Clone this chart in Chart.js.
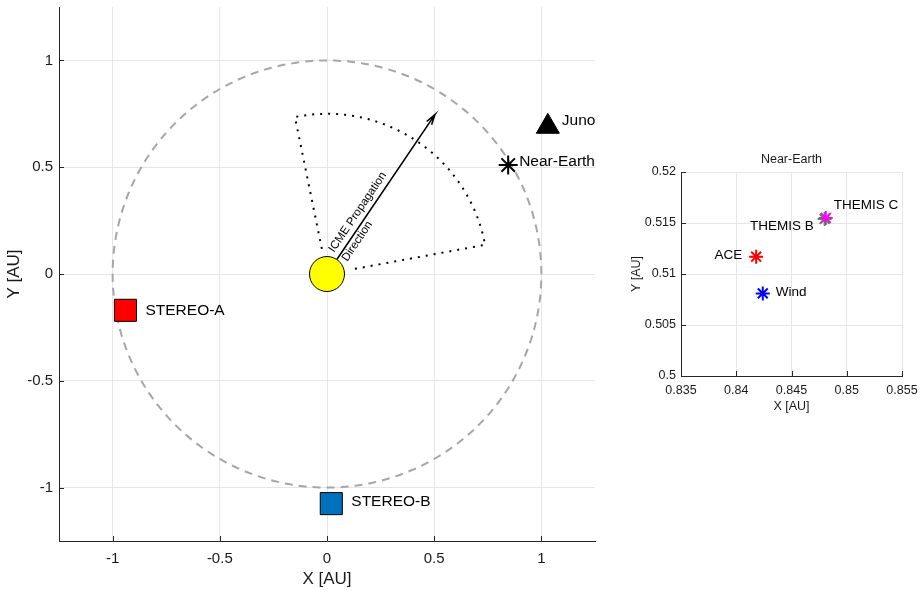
<!DOCTYPE html>
<html>
<head>
<meta charset="utf-8">
<script src="https://cdn.jsdelivr.net/npm/chart.js@4.4.1/dist/chart.umd.min.js"></script>
<style>
  html, body { margin: 0; padding: 0; background: #fff; }
  body { width: 922px; height: 590px; position: relative; overflow: hidden; }
  #mainChart { position: absolute; left: 0; top: 0; }
  #insetChart { position: absolute; left: 620px; top: 140px; }
</style>
</head>
<body>
<canvas id="mainChart" width="610" height="590"></canvas>
<canvas id="insetChart" width="302" height="290"></canvas>
<script>
// spacecraft positions in the main view [AU]
const craftNames = ['STEREO-A', 'STEREO-B', 'Juno', 'Near-Earth'];
const craftX = [-0.94, 0.02, 1.03, 0.845];
const craftY = [-0.17, -1.075, 0.69, 0.51];

// sun, 1 AU reference circle and the CME cone
const sunPos = [0, 0];
const orbitRadius = 1;
const cmeDirection = 56;     // deg from +X
const cmeHalfWidth = 45.5;   // deg
const cmeInnerR = 0.12;
const cmeOuterR = 0.75;
const arrowLength = 0.9;
const cmeLabel = ['ICME Propagation', 'Direction'];

const mainTicks = [-1, -0.5, 0, 0.5, 1];
const mainTickLabels = ['-1', '-0.5', '0', '0.5', '1'];

// near-Earth inset [AU]
const nearNames = ['ACE', 'Wind', 'THEMIS B', 'THEMIS C'];
const nearX = [0.8418, 0.8424, 0.8480, 0.8481];
const nearY = [0.5117, 0.5081, 0.5154, 0.5155];
const insetXTicks = [0.835, 0.84, 0.845, 0.85, 0.855];
const insetXLabels = ['0.835', '0.84', '0.845', '0.85', '0.855'];
const insetYTicks = [0.5, 0.505, 0.51, 0.515, 0.52];
const insetYLabels = ['0.5', '0.505', '0.51', '0.515', '0.52'];

const FONT = '"Liberation Sans", Arial, Helvetica, sans-serif';
const TXT = '#1a1a1a';
const GRID = '#e6e6e6';
const AXIS = '#262626';
const deg = Math.PI / 180;

function polar(r, a) { return { x: r * Math.cos(a * deg), y: r * Math.sin(a * deg) }; }

// geometry built from the constants above
const orbitPts = [];
for (let a = 0; a <= 360; a += 2) orbitPts.push(polar(orbitRadius, a));

const leftA = cmeDirection + cmeHalfWidth, rightA = cmeDirection - cmeHalfWidth;
const conePts = [polar(cmeInnerR, leftA)];
for (let a = leftA; a >= rightA; a -= 1.5) conePts.push(polar(cmeOuterR, a));
conePts.push(polar(cmeOuterR, rightA), polar(cmeInnerR, rightA));

const tip = polar(arrowLength, cmeDirection);
const barb1 = { x: tip.x - polar(0.05, cmeDirection - 16).x, y: tip.y - polar(0.05, cmeDirection - 16).y };
const barb2 = { x: tip.x - polar(0.05, cmeDirection + 16).x, y: tip.y - polar(0.05, cmeDirection + 16).y };
const arrowPts = [{ x: sunPos[0], y: sunPos[1] }, tip, barb1, tip, barb2];

// small inward tick marks on left and bottom axes
const inwardTicks = {
  id: 'inwardTicks',
  beforeDatasetsDraw(chart) {
    const { ctx, chartArea: a, scales: { x, y } } = chart;
    ctx.save();
    ctx.strokeStyle = AXIS;
    ctx.lineWidth = 1;
    ctx.beginPath();
    x.ticks.forEach(t => {
      const px = Math.round(x.getPixelForValue(t.value)) + 0.5;
      ctx.moveTo(px, a.bottom); ctx.lineTo(px, a.bottom - 5);
    });
    y.ticks.forEach(t => {
      const py = Math.round(y.getPixelForValue(t.value)) + 0.5;
      ctx.moveTo(a.left, py); ctx.lineTo(a.left + 5, py);
    });
    ctx.stroke();
    ctx.restore();
  }
};

function labelPlugin(items, font) {
  return {
    id: 'pointLabels',
    afterDatasetsDraw(chart) {
      const ctx = chart.ctx;
      ctx.save();
      ctx.font = font;
      ctx.fillStyle = '#000';
      ctx.textBaseline = 'middle';
      items.forEach(it => {
        const el = chart.getDatasetMeta(it.ds).data[it.i];
        ctx.textAlign = it.align || 'left';
        ctx.fillText(it.text, el.x + it.dx, el.y + it.dy);
      });
      ctx.restore();
    }
  };
}

const cmeText = {
  id: 'cmeText',
  afterDatasetsDraw(chart) {
    const { ctx, scales: { x, y } } = chart;
    const p = polar(0.1, cmeDirection);
    ctx.save();
    ctx.translate(x.getPixelForValue(p.x), y.getPixelForValue(p.y));
    ctx.rotate(-cmeDirection * deg);
    ctx.font = '11.5px ' + FONT;
    ctx.fillStyle = '#000';
    ctx.textAlign = 'left';
    ctx.textBaseline = 'alphabetic';
    ctx.fillText(cmeLabel[0], 0, -6);
    ctx.fillText(cmeLabel[1], 0, 10);
    ctx.restore();
  }
};

// keep chart area fixed: no extra room for overhanging tick labels
function noPad(s) { s.paddingTop = 0; s.paddingBottom = 0; s.paddingLeft = 0; s.paddingRight = 0; }

function axisOpts(ticks, labels, fontSize, pad, extra) {
  return Object.assign({
    type: 'linear',
    afterBuildTicks: s => { s.ticks = ticks.map(v => ({ value: v })); },
    grid: { color: GRID, lineWidth: 1, drawTicks: false },
    border: { display: true, color: AXIS, width: 1 },
    ticks: { color: TXT, padding: pad, font: { family: FONT, size: fontSize }, callback: (v, i) => labels[i] }
  }, extra);
}

Chart.defaults.font.family = FONT;

new Chart(document.getElementById('mainChart'), {
  type: 'scatter',
  data: {
    datasets: [
      {
        label: 'spacecraft',
        data: craftNames.map((n, i) => ({ x: craftX[i], y: craftY[i] })),
        pointStyle: ['rect', 'rect', 'triangle', 'star'],
        pointRadius: [15.6, 15.6, 13.3, 9.5],
        pointBackgroundColor: ['#ff0000', '#0072bd', '#000000', '#000000'],
        pointBorderColor: '#000',
        pointBorderWidth: [1, 1, 1, 2],
        order: 1
      },
      {
        label: 'sun',
        data: [{ x: sunPos[0], y: sunPos[1] }],
        pointStyle: 'circle',
        pointRadius: 17.5,
        pointBackgroundColor: '#ffff00',
        pointBorderColor: '#000',
        pointBorderWidth: 1,
        order: 2
      },
      {
        label: 'arrow',
        data: arrowPts,
        showLine: true,
        pointRadius: 0,
        borderColor: '#000',
        borderWidth: 1.6,
        order: 3
      },
      {
        label: 'cone',
        data: conePts,
        showLine: true,
        pointRadius: 0,
        borderColor: '#000',
        borderWidth: 2,
        borderDash: [2, 6],
        order: 4
      },
      {
        label: 'orbit',
        data: orbitPts,
        showLine: true,
        pointRadius: 0,
        borderColor: '#a6a6a6',
        borderWidth: 2,
        borderDash: [8, 6],
        order: 5
      }
    ]
  },
  options: {
    responsive: false,
    animation: false,
    events: [],
    layout: { autoPadding: false, padding: { left: 0, top: 7, right: 15, bottom: 0 } },
    plugins: { legend: { display: false }, tooltip: { enabled: false } },
    scales: {
      x: axisOpts(mainTicks, mainTickLabels, 15, 9, {
        min: -1.25, max: 1.25,
        afterFit: s => { s.height = 49; noPad(s); },
        title: { display: true, text: 'X [AU]', color: TXT, font: { size: 17 }, padding: { top: 0, bottom: 0 } }
      }),
      y: axisOpts(mainTicks, mainTickLabels, 15, 6, {
        min: -1.25, max: 1.25,
        afterFit: s => { s.width = 59; noPad(s); },
        title: { display: true, text: 'Y [AU]', color: TXT, font: { size: 17 }, padding: { top: 4, bottom: 0 } }
      })
    }
  },
  plugins: [inwardTicks, cmeText, labelPlugin([
    { ds: 0, i: 0, text: craftNames[0], dx: 20, dy: 0 },
    { ds: 0, i: 1, text: craftNames[1], dx: 20, dy: -2 },
    { ds: 0, i: 2, text: craftNames[2], dx: 14, dy: -6 },
    { ds: 0, i: 3, text: craftNames[3], dx: 11, dy: -3.5 }
  ], '15.5px ' + FONT)]
});

const insetTitle = {
  id: 'insetTitle',
  afterDraw(chart) {
    const { ctx, chartArea: a } = chart;
    ctx.save();
    ctx.font = '12.5px ' + FONT;
    ctx.fillStyle = TXT;
    ctx.textAlign = 'center';
    ctx.textBaseline = 'middle';
    ctx.fillText('Near-Earth', (a.left + a.right) / 2, a.top - 12);
    ctx.restore();
  }
};

new Chart(document.getElementById('insetChart'), {
  type: 'scatter',
  data: {
    datasets: [{
      label: 'near-Earth',
      data: nearNames.map((n, i) => ({ x: nearX[i], y: nearY[i] })),
      pointStyle: 'star',
      pointRadius: 7,
      pointBorderWidth: 2,
      pointBorderColor: ['#ff0000', '#0000ff', '#00cc00', '#ff00ff'],
      pointBackgroundColor: 'transparent'
    }]
  },
  options: {
    responsive: false,
    animation: false,
    events: [],
    layout: { autoPadding: false, padding: { left: 0, top: 32, right: 20, bottom: 0 } },
    plugins: { legend: { display: false }, tooltip: { enabled: false } },
    scales: {
      x: axisOpts(insetXTicks, insetXLabels, 12.5, 7, {
        min: 0.835, max: 0.855,
        afterFit: s => { s.height = 54; noPad(s); },
        title: { display: true, text: 'X [AU]', color: TXT, font: { size: 12.5 }, padding: { top: 0, bottom: 16 } }
      }),
      y: axisOpts(insetYTicks, insetYLabels, 12.5, 5, {
        min: 0.5, max: 0.52,
        afterFit: s => { s.width = 61; noPad(s); },
        title: { display: true, text: 'Y [AU]', color: TXT, font: { size: 12.5 }, padding: { top: 9, bottom: 0 } }
      })
    }
  },
  plugins: [inwardTicks, insetTitle, labelPlugin([
    { ds: 0, i: 0, text: nearNames[0], dx: -14, dy: -1, align: 'right' },
    { ds: 0, i: 1, text: nearNames[1], dx: 13, dy: -1 },
    { ds: 0, i: 2, text: nearNames[2], dx: -11, dy: 7, align: 'right' },
    { ds: 0, i: 3, text: nearNames[3], dx: 8, dy: -13 }
  ], '13.5px ' + FONT)]
});
</script>
</body>
</html>
